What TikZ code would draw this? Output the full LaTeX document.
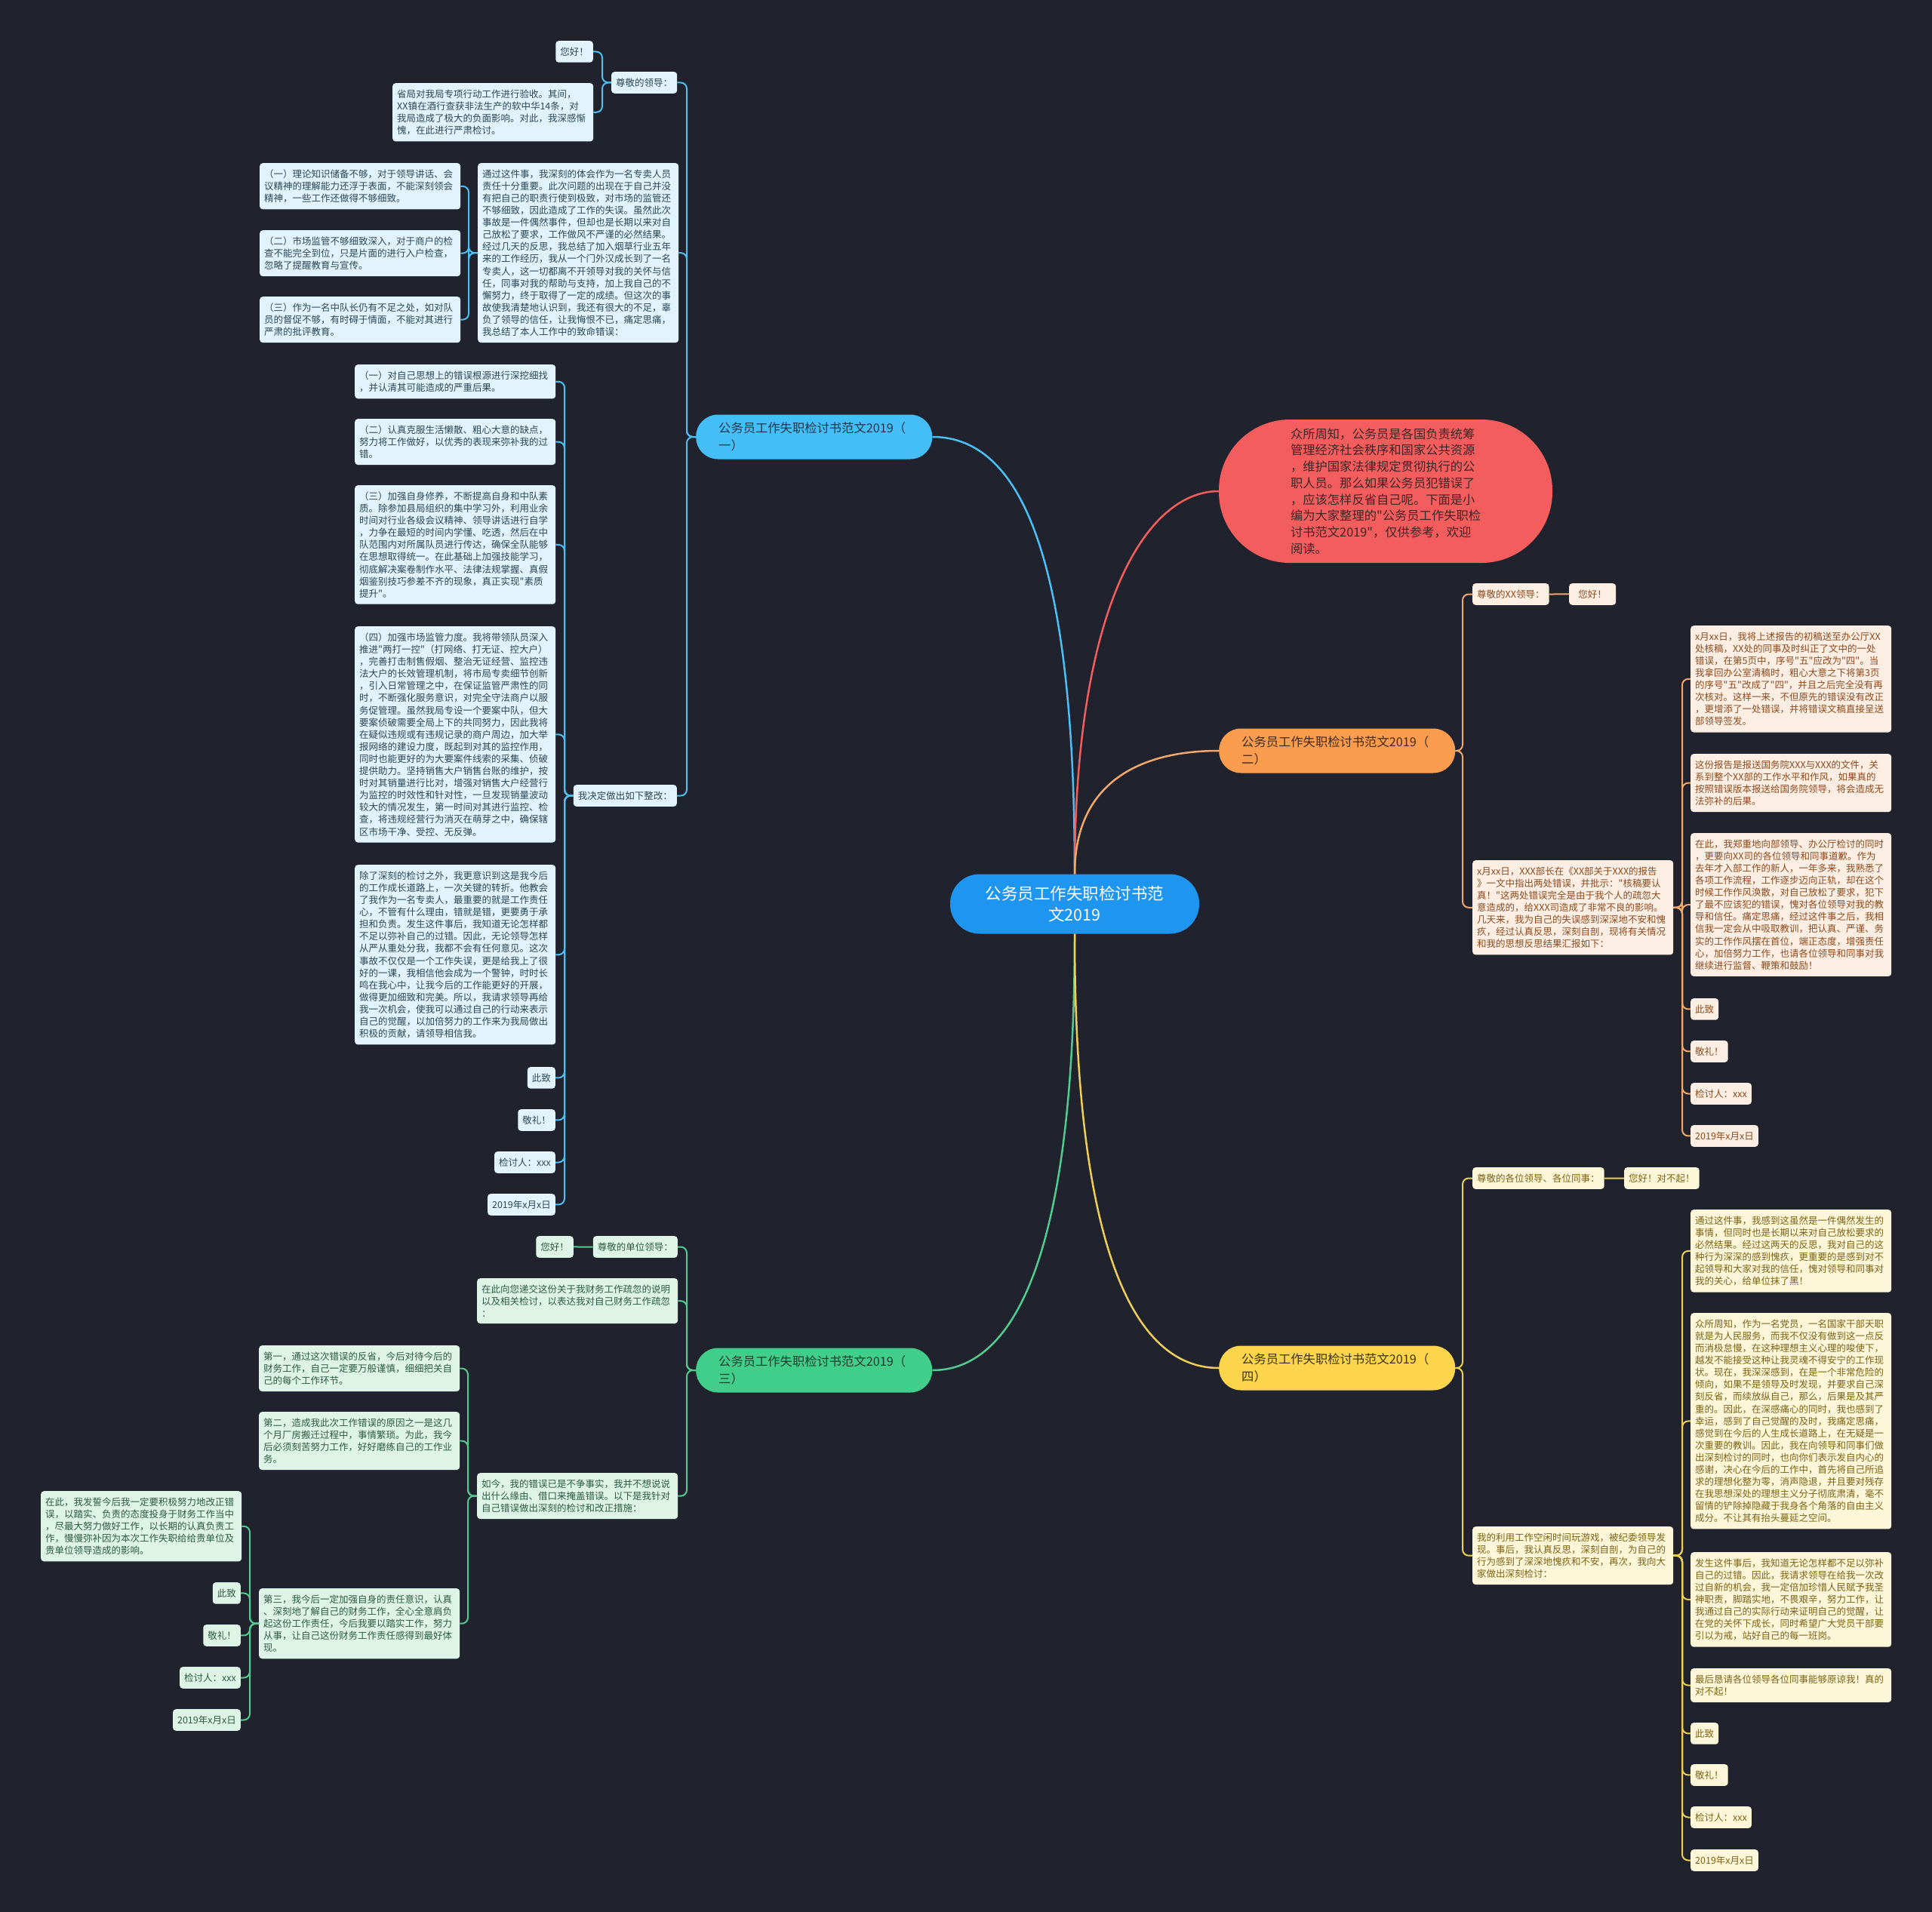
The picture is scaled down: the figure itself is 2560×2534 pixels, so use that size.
\documentclass[tikz,border=0pt]{standalone}
\usepackage{fontspec}
\setmainfont{Noto Sans CJK SC}[Ligatures=TeXOff]
\definecolor{bgc}{HTML}{20232E}
\definecolor{cenF}{HTML}{1E96F0}
\definecolor{redF}{HTML}{F45D5D}
\definecolor{redT}{HTML}{3B2626}
\definecolor{bLn}{HTML}{4CC0F5}
\definecolor{bHd}{HTML}{45BEF7}
\definecolor{bHt}{HTML}{21364A}
\definecolor{bLf}{HTML}{E1F4FD}
\definecolor{bTx}{HTML}{2C4656}
\definecolor{oLn}{HTML}{F3A86B}
\definecolor{oHd}{HTML}{FB9D4E}
\definecolor{oHt}{HTML}{3F2A1A}
\definecolor{oLf}{HTML}{FDEEE3}
\definecolor{oTx}{HTML}{8B4A1E}
\definecolor{gLn}{HTML}{52CC8E}
\definecolor{gHd}{HTML}{40CE8A}
\definecolor{gHt}{HTML}{1F3B2C}
\definecolor{gLf}{HTML}{DEF4E7}
\definecolor{gTx}{HTML}{2D5A41}
\definecolor{yLn}{HTML}{EECF55}
\definecolor{yHd}{HTML}{FDD54C}
\definecolor{yHt}{HTML}{3D3210}
\definecolor{yLf}{HTML}{FEF6D8}
\definecolor{yTx}{HTML}{7A6216}
\newcommand\mmlink[4]{\draw[#1] (#2) -- (#2 -| #3) -- (#4 -| #3) -- (#4);}
\tikzset{
 lf/.style={rounded corners=4pt, inner xsep=6pt, inner ysep=8.5pt, font=\fontsize{12.5}{16.1}\selectfont, align=left},
 pw/.style={text width=254pt},
 lb/.style={lf, fill=bLf, text=bTx},
 lo/.style={lf, fill=oLf, text=oTx},
 lg/.style={lf, fill=gLf, text=gTx},
 ly/.style={lf, fill=yLf, text=yTx},
 hd/.style={rounded corners=29pt, minimum height=59pt, text width=253pt, inner xsep=30pt, inner ysep=6pt, align=left, font=\fontsize{16.3}{23}\selectfont},
 bL/.style={draw=bLn, line width=2pt, rounded corners=8pt},
 oL/.style={draw=oLn, line width=2pt, rounded corners=8pt},
 gL/.style={draw=gLn, line width=2pt, rounded corners=8pt},
 yL/.style={draw=yLn, line width=2pt, rounded corners=8pt},
 sL/.style={line width=2pt},
 cv/.style={line width=2.5pt},
}
\begin{document}
\begin{tikzpicture}[x=1pt,y=-1pt]
\useasboundingbox (0,0) rectangle (2560,2534);
\fill[bgc] (0,0) rectangle (2560,2534);
% vertical guide coordinates
\coordinate (bV0) at (910,0);
\coordinate (bV1) at (798,0);
\coordinate (bV2) at (621,0);
\coordinate (bV3) at (748,0);
\coordinate (oV0) at (1938,0);
\coordinate (oV2) at (2229,0);
\coordinate (gV0) at (910,0);
\coordinate (gV2) at (620,0);
\coordinate (gV3) at (331,0);
\coordinate (yV0) at (1938,0);
\coordinate (yV2) at (2229,0);

% central and red
\node[fill=cenF, text=white, rounded corners=39pt, minimum width=330pt, minimum height=79pt, align=center, font=\fontsize{21.5}{28}\selectfont] (cen) at (1424,1198) {公务员工作失职检讨书范\\文2019};
\node[fill=redF, text=redT, rounded corners=94pt, minimum width=442pt, minimum height=190pt, text width=252pt, align=left, font=\fontsize{16.3}{21.7}\selectfont] (red) at (1836,651) {众所周知，公务员是各国负责统筹\\管理经济社会秩序和国家公共资源\\，维护国家法律规定贯彻执行的公\\职人员。那么如果公务员犯错误了\\，应该怎样反省自己呢。下面是小\\编为大家整理的"公务员工作失职检\\讨书范文2019"，仅供参考，欢迎\\阅读。};

% headers
\node[hd, fill=bHd, text=bHt, anchor=west] (hA) at (922,579) {公务员工作失职检讨书范文2019（\\一）};
\node[hd, fill=oHd, text=oHt, anchor=west] (hB) at (1615,995) {公务员工作失职检讨书范文2019（\\二）};
\node[hd, fill=gHd, text=gHt, anchor=west] (hC) at (922,1816) {公务员工作失职检讨书范文2019（\\三）};
\node[hd, fill=yHd, text=yHt, anchor=west] (hD) at (1615,1813) {公务员工作失职检讨书范文2019（\\四）};

% ===== blue branch
\node[lb, anchor=north east] (bHi) at (786,54) {您好！};
\node[lb, anchor=north west] (bZj) at (810,95) {尊敬的领导：};
\node[lb, pw, anchor=north west] (bSj) at (520,110) {省局对我局专项行动工作进行验收。其间，\\XX镇在酒行查获非法生产的软中华14条，对\\我局造成了极大的负面影响。对此，我深感惭\\愧，在此进行严肃检讨。};
\node[lb, pw, anchor=north west] (bT) at (633,216) {通过这件事，我深刻的体会作为一名专卖人员\\责任十分重要。此次问题的出现在于自己并没\\有把自己的职责行使到极致，对市场的监管还\\不够细致，因此造成了工作的失误。虽然此次\\事故是一件偶然事件，但却也是长期以来对自\\己放松了要求，工作做风不严谨的必然结果。\\经过几天的反思，我总结了加入烟草行业五年\\来的工作经历，我从一个门外汉成长到了一名\\专卖人，这一切都离不开领导对我的关怀与信\\任，同事对我的帮助与支持，加上我自己的不\\懈努力，终于取得了一定的成绩。但这次的事\\故使我清楚地认识到，我还有很大的不足，辜\\负了领导的信任，让我悔恨不已，痛定思痛，\\我总结了本人工作中的致命错误：};
\node[lb, pw, anchor=north west] (bT1) at (344,216) {（一）理论知识储备不够，对于领导讲话、会\\议精神的理解能力还浮于表面，不能深刻领会\\精神，一些工作还做得不够细致。};
\node[lb, pw, anchor=north west] (bT2) at (344,305) {（二）市场监管不够细致深入，对于商户的检\\查不能完全到位，只是片面的进行入户检查，\\忽略了提醒教育与宣传。};
\node[lb, pw, anchor=north west] (bT3) at (344,393) {（三）作为一名中队长仍有不足之处，如对队\\员的督促不够，有时碍于情面，不能对其进行\\严肃的批评教育。};
\node[lb, anchor=north east] (bJd) at (897,1040) {我决定做出如下整改：};
\node[lb, pw, anchor=north west] (bG1) at (470,483) {（一）对自己思想上的错误根源进行深挖细找\\，并认清其可能造成的严重后果。};
\node[lb, pw, anchor=north west] (bG2) at (470,555) {（二）认真克服生活懒散、粗心大意的缺点，\\努力将工作做好，以优秀的表现来弥补我的过\\错。};
\node[lb, pw, anchor=north west] (bG3) at (470,643) {（三）加强自身修养，不断提高自身和中队素\\质。除参加县局组织的集中学习外，利用业余\\时间对行业各级会议精神、领导讲话进行自学\\，力争在最短的时间内学懂、吃透，然后在中\\队范围内对所属队员进行传达，确保全队能够\\在思想取得统一。在此基础上加强技能学习，\\彻底解决案卷制作水平、法律法规掌握、真假\\烟鉴别技巧参差不齐的现象，真正实现"素质\\提升"。};
\node[lb, pw, anchor=north west] (bG4) at (470,830) {（四）加强市场监管力度。我将带领队员深入\\推进"两打一控"（打网络、打无证、控大户）\\，完善打击制售假烟、整治无证经营、监控违\\法大户的长效管理机制，将市局专卖细节创新\\，引入日常管理之中，在保证监管严肃性的同\\时，不断强化服务意识，对完全守法商户以服\\务促管理。虽然我局专设一个要案中队，但大\\要案侦破需要全局上下的共同努力，因此我将\\在疑似违规或有违规记录的商户周边，加大举\\报网络的建设力度，既起到对其的监控作用，\\同时也能更好的为大要案件线索的采集、侦破\\提供助力。坚持销售大户销售台账的维护，按\\时对其销量进行比对，增强对销售大户经营行\\为监控的时效性和针对性，一旦发现销量波动\\较大的情况发生，第一时间对其进行监控、检\\查，将违规经营行为消灭在萌芽之中，确保辖\\区市场干净、受控、无反弹。};
\node[lb, pw, anchor=north west] (bG5) at (470,1146) {除了深刻的检讨之外，我更意识到这是我今后\\的工作成长道路上，一次关键的转折。他教会\\了我作为一名专卖人，最重要的就是工作责任\\心，不管有什么理由，错就是错，更要勇于承\\担和负责。发生这件事后，我知道无论怎样都\\不足以弥补自己的过错。因此，无论领导怎样\\从严从重处分我，我都不会有任何意见。这次\\事故不仅仅是一个工作失误，更是给我上了很\\好的一课，我相信他会成为一个警钟，时时长\\鸣在我心中，让我今后的工作能更好的开展，\\做得更加细致和完美。所以，我请求领导再给\\我一次机会，使我可以通过自己的行动来表示\\自己的觉醒，以加倍努力的工作来为我局做出\\积极的贡献，请领导相信我。};
\node[lb, anchor=north east] (bG6) at (736,1414) {此致};
\node[lb, anchor=north east] (bG7) at (736,1470) {敬礼！};
\node[lb, anchor=north east] (bG8) at (736,1526) {检讨人：xxx};
\node[lb, anchor=north east] (bG9) at (736,1582) {2019年x月x日};

% ===== orange branch
\node[lo, anchor=north west] (oZj) at (1951,773) {尊敬的XX领导：};
\node[lo, anchor=north west, minimum width=62pt, align=center] (oHi) at (2079,773) {您好！};
\node[lo, pw, anchor=north west] (oXb) at (1951,1140) {x月xx日，XXX部长在《XX部关于XXX的报告\\》一文中指出两处错误，并批示："核稿要认\\真！"这两处错误完全是由于我个人的疏忽大\\意造成的，给XXX司造成了非常不良的影响。\\几天来，我为自己的失误感到深深地不安和愧\\疚，经过认真反思，深刻自剖，现将有关情况\\和我的思想反思结果汇报如下：};
\node[lo, pw, anchor=north west] (oP1) at (2240,829) {x月xx日，我将上述报告的初稿送至办公厅XX\\处核稿，XX处的同事及时纠正了文中的一处\\错误，在第5页中，序号"五"应改为"四"。当\\我拿回办公室清稿时，粗心大意之下将第3页\\的序号"五"改成了"四"，并且之后完全没有再\\次核对。这样一来，不但原先的错误没有改正\\，更增添了一处错误，并将错误文稿直接呈送\\部领导签发。};
\node[lo, pw, anchor=north west] (oP2) at (2240,999) {这份报告是报送国务院XXX与XXX的文件，关\\系到整个XX部的工作水平和作风，如果真的\\按照错误版本报送给国务院领导，将会造成无\\法弥补的后果。};
\node[lo, pw, anchor=north west] (oP3) at (2240,1104) {在此，我郑重地向部领导、办公厅检讨的同时\\，更要向XX司的各位领导和同事道歉。作为\\去年才入部工作的新人，一年多来，我熟悉了\\各项工作流程，工作逐步迈向正轨，却在这个\\时候工作作风涣散，对自己放松了要求，犯下\\了最不应该犯的错误，愧对各位领导对我的教\\导和信任。痛定思痛，经过这件事之后，我相\\信我一定会从中吸取教训，把认真、严谨、务\\实的工作作风摆在首位，端正态度，增强责任\\心，加倍努力工作，也请各位领导和同事对我\\继续进行监督、鞭策和鼓励！};
\node[lo, anchor=north west] (oP4) at (2240,1323) {此致};
\node[lo, anchor=north west] (oP5) at (2240,1379) {敬礼！};
\node[lo, anchor=north west] (oP6) at (2240,1435) {检讨人：xxx};
\node[lo, anchor=north west] (oP7) at (2240,1491) {2019年x月x日};

% ===== green branch
\node[lg, anchor=north east] (gHi) at (760,1638) {您好！};
\node[lg, anchor=north east] (gZj) at (898,1638) {尊敬的单位领导：};
\node[lg, pw, anchor=north west] (gDj) at (632,1694) {在此向您递交这份关于我财务工作疏忽的说明\\以及相关检讨，以表达我对自己财务工作疏忽\\：};
\node[lg, pw, anchor=north west] (gRj) at (632,1952) {如今，我的错误已是不争事实，我并不想说说\\出什么缘由、借口来掩盖错误。以下是我针对\\自己错误做出深刻的检讨和改正措施：};
\node[lg, pw, anchor=north west] (gF1) at (343,1783) {第一，通过这次错误的反省，今后对待今后的\\财务工作，自己一定要万般谨慎，细细把关自\\己的每个工作环节。};
\node[lg, pw, anchor=north west] (gF2) at (343,1871) {第二，造成我此次工作错误的原因之一是这几\\个月厂房搬迁过程中，事情繁琐。为此，我今\\后必须刻苦努力工作，好好磨练自己的工作业\\务。};
\node[lg, pw, anchor=north west] (gF3) at (343,2105) {第三，我今后一定加强自身的责任意识，认真\\、深刻地了解自己的财务工作，全心全意肩负\\起这份工作责任，今后我要以踏实工作，努力\\从事，让自己这份财务工作责任感得到最好体\\现。};
\node[lg, pw, anchor=north west] (gS1) at (54,1976) {在此，我发誓今后我一定要积极努力地改正错\\误，以踏实、负责的态度投身于财务工作当中\\，尽最大努力做好工作，以长期的认真负责工\\作，慢慢弥补因为本次工作失职给给贵单位及\\贵单位领导造成的影响。};
\node[lg, anchor=north east] (gS2) at (319,2097) {此致};
\node[lg, anchor=north east] (gS3) at (319,2153) {敬礼！};
\node[lg, anchor=north east] (gS4) at (319,2209) {检讨人：xxx};
\node[lg, anchor=north east] (gS5) at (319,2265) {2019年x月x日};

% ===== yellow branch
\node[ly, anchor=north west] (yZj) at (1951,1547) {尊敬的各位领导、各位同事：};
\node[ly, anchor=north west] (yHi) at (2152,1547) {您好！对不起！};
\node[ly, pw, anchor=north west] (yWd) at (1951,2023) {我的利用工作空闲时间玩游戏，被纪委领导发\\现。事后，我认真反思，深刻自剖，为自己的\\行为感到了深深地愧疚和不安，再次，我向大\\家做出深刻检讨：};
\node[ly, pw, anchor=north west] (yP1) at (2240,1603) {通过这件事，我感到这虽然是一件偶然发生的\\事情，但同时也是长期以来对自己放松要求的\\必然结果。经过这两天的反思，我对自己的这\\种行为深深的感到愧疚，更重要的是感到对不\\起领导和大家对我的信任，愧对领导和同事对\\我的关心，给单位抹了黑！};
\node[ly, pw, anchor=north west] (yP2) at (2240,1740) {众所周知，作为一名党员，一名国家干部天职\\就是为人民服务，而我不仅没有做到这一点反\\而消极怠慢，在这种理想主义心理的唆使下，\\越发不能接受这种让我灵魂不得安宁的工作现\\状。现在，我深深感到，在是一个非常危险的\\倾向，如果不是领导及时发现，并要求自己深\\刻反省，而续放纵自己，那么，后果是及其严\\重的。因此，在深感痛心的同时，我也感到了\\幸运，感到了自己觉醒的及时，我痛定思痛，\\感觉到在今后的人生成长道路上，在无疑是一\\次重要的教训。因此，我在向领导和同事们做\\出深刻检讨的同时，也向你们表示发自内心的\\感谢，决心在今后的工作中，首先将自己所追\\求的理想化整为零，消声隐退，并且要对残存\\在我思想深处的理想主义分子彻底肃清，毫不\\留情的铲除掉隐藏于我身各个角落的自由主义\\成分。不让其有抬头蔓延之空间。};
\node[ly, pw, anchor=north west] (yP3) at (2240,2057) {发生这件事后，我知道无论怎样都不足以弥补\\自己的过错。因此，我请求领导在给我一次改\\过自新的机会，我一定倍加珍惜人民赋予我圣\\神职责，脚踏实地，不畏艰辛，努力工作，让\\我通过自己的实际行动来证明自己的觉醒，让\\在党的关怀下成长，同时希望广大党员干部要\\引以为戒，站好自己的每一班岗。};
\node[ly, pw, anchor=north west] (yP4) at (2240,2211) {最后恳请各位领导各位同事能够原谅我！真的\\对不起！};
\node[ly, anchor=north west] (yP5) at (2240,2283) {此致};
\node[ly, anchor=north west] (yP6) at (2240,2338) {敬礼！};
\node[ly, anchor=north west] (yP7) at (2240,2394) {检讨人：xxx};
\node[ly, anchor=north west] (yP8) at (2240,2451) {2019年x月x日};

% ===== center curves
\draw[cv, draw=bLn] (cen.north) .. controls (1424,760) and (1360,579) .. (hA.east);
\draw[cv, draw=redF] (cen.north) .. controls (1424,800) and (1520,651) .. (red.west);
\draw[cv, draw=oLn] (cen.north) .. controls (1424,1030) and (1520,995) .. (hB.west);
\draw[cv, draw=gLn] (cen.south) .. controls (1424,1700) and (1330,1816) .. (hC.east);
\draw[cv, draw=yLn] (cen.south) .. controls (1424,1700) and (1520,1813) .. (hD.west);

% ===== blue links
\mmlink{bL}{hA.west}{bV0}{bZj.east}
\mmlink{bL}{hA.west}{bV0}{bT.east}
\mmlink{bL}{hA.west}{bV0}{bJd.east}
\mmlink{bL}{bZj.west}{bV1}{bHi.east}
\mmlink{bL}{bZj.west}{bV1}{bSj.east}
\mmlink{bL}{bT.west}{bV2}{bT1.east}
\mmlink{bL}{bT.west}{bV2}{bT2.east}
\mmlink{bL}{bT.west}{bV2}{bT3.east}
\mmlink{bL}{bJd.west}{bV3}{bG1.east}
\mmlink{bL}{bJd.west}{bV3}{bG2.east}
\mmlink{bL}{bJd.west}{bV3}{bG3.east}
\mmlink{bL}{bJd.west}{bV3}{bG4.east}
\mmlink{bL}{bJd.west}{bV3}{bG5.east}
\mmlink{bL}{bJd.west}{bV3}{bG6.east}
\mmlink{bL}{bJd.west}{bV3}{bG7.east}
\mmlink{bL}{bJd.west}{bV3}{bG8.east}
\mmlink{bL}{bJd.west}{bV3}{bG9.east}

% ===== orange links
\mmlink{oL}{hB.east}{oV0}{oZj.west}
\mmlink{oL}{hB.east}{oV0}{oXb.west}
\draw[sL, draw=oLn] (oZj.east) -- (oHi.west);
\mmlink{oL}{oXb.east}{oV2}{oP1.west}
\mmlink{oL}{oXb.east}{oV2}{oP2.west}
\mmlink{oL}{oXb.east}{oV2}{oP3.west}
\mmlink{oL}{oXb.east}{oV2}{oP4.west}
\mmlink{oL}{oXb.east}{oV2}{oP5.west}
\mmlink{oL}{oXb.east}{oV2}{oP6.west}
\mmlink{oL}{oXb.east}{oV2}{oP7.west}

% ===== green links
\mmlink{gL}{hC.west}{gV0}{gZj.east}
\mmlink{gL}{hC.west}{gV0}{gDj.east}
\mmlink{gL}{hC.west}{gV0}{gRj.east}
\draw[sL, draw=gLn] (gZj.west) -- (gHi.east);
\mmlink{gL}{gRj.west}{gV2}{gF1.east}
\mmlink{gL}{gRj.west}{gV2}{gF2.east}
\mmlink{gL}{gRj.west}{gV2}{gF3.east}
\mmlink{gL}{gF3.west}{gV3}{gS1.east}
\mmlink{gL}{gF3.west}{gV3}{gS2.east}
\mmlink{gL}{gF3.west}{gV3}{gS3.east}
\mmlink{gL}{gF3.west}{gV3}{gS4.east}
\mmlink{gL}{gF3.west}{gV3}{gS5.east}

% ===== yellow links
\mmlink{yL}{hD.east}{yV0}{yZj.west}
\mmlink{yL}{hD.east}{yV0}{yWd.west}
\draw[sL, draw=yLn] (yZj.east) -- (yHi.west);
\mmlink{yL}{yWd.east}{yV2}{yP1.west}
\mmlink{yL}{yWd.east}{yV2}{yP2.west}
\mmlink{yL}{yWd.east}{yV2}{yP3.west}
\mmlink{yL}{yWd.east}{yV2}{yP4.west}
\mmlink{yL}{yWd.east}{yV2}{yP5.west}
\mmlink{yL}{yWd.east}{yV2}{yP6.west}
\mmlink{yL}{yWd.east}{yV2}{yP7.west}
\mmlink{yL}{yWd.east}{yV2}{yP8.west}
\end{tikzpicture}
\end{document}
